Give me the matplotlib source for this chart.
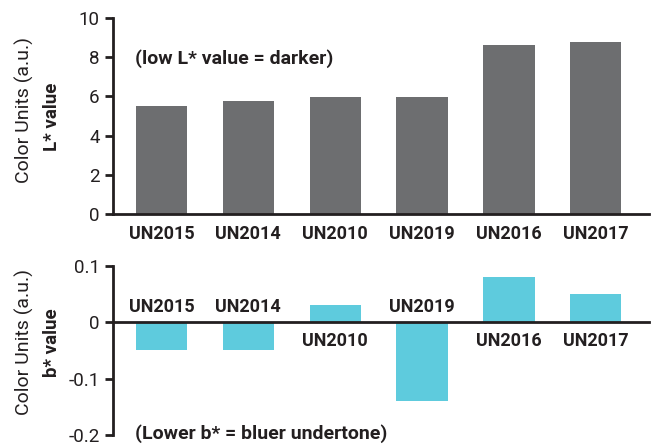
import numpy as np
import matplotlib.pyplot as plt

samples = ["UN2015", "UN2014", "UN2010", "UN2019", "UN2016", "UN2017"]
l_values = [5.51, 5.77, 5.95, 5.95, 8.62, 8.78]
b_values = [-0.05, -0.05, 0.03, -0.14, 0.08, 0.05]

plt.rcParams['font.family'] = ['Roboto', 'DejaVu Sans']
dark = "#231f20"
grey = "#6d6e70"
cyan = "#5ecbdd"

fig = plt.figure(figsize=(6.52, 4.45), dpi=100)
ax1 = fig.add_axes([0.173, 0.519, 0.822, 0.441])
ax2 = fig.add_axes([0.173, 0.0225, 0.822, 0.38])

x_pos = np.arange(len(samples))
width = 0.59

# top: L* values
ax1.bar(x_pos, l_values, width=width, color=grey)
ax1.set_xlim(-0.56, 5.61)
ax1.set_ylim(0, 10)
ax1.set_yticks([0, 2, 4, 6, 8, 10])
ax1.set_xticks(x_pos)
ax1.set_xticklabels(samples, fontweight='bold', fontsize=13, color=dark)
ax1.tick_params(axis='x', length=0, pad=8)
ax1.tick_params(axis='y', labelsize=13.5, colors=dark, width=2, length=6)
for s in ['top', 'right']:
	ax1.spines[s].set_visible(False)
for s in ['left', 'bottom']:
	ax1.spines[s].set_linewidth(2)
	ax1.spines[s].set_color(dark)
ax1.text(-0.3, 7.9, "(low L* value = darker)", fontweight='bold', fontsize=14,
	color=dark, va='center', ha='left')

# bottom: b* values
ax2.bar(x_pos, b_values, width=width, color=cyan)
ax2.set_xlim(-0.56, 5.61)
ax2.set_ylim(-0.2, 0.1)
ax2.set_yticks([-0.2, -0.1, 0, 0.1])
ax2.set_yticklabels(["-0.2", "-0.1", "0", "0.1"])
ax2.set_xticks([])
ax2.tick_params(axis='y', labelsize=13.5, colors=dark, width=2, length=6)
for s in ['top', 'right']:
	ax2.spines[s].set_visible(False)
ax2.spines['bottom'].set_position(('data', 0))
for s in ['left', 'bottom']:
	ax2.spines[s].set_linewidth(2)
	ax2.spines[s].set_color(dark)
for i, v in enumerate(b_values):
	if v < 0:
		ax2.text(i, 0.011, samples[i], ha='center', va='bottom', fontweight='bold',
			fontsize=13, color=dark)
	else:
		ax2.text(i, -0.018, samples[i], ha='center', va='top', fontweight='bold',
			fontsize=13, color=dark)
ax2.text(-0.3, -0.197, "(Lower b* = bluer undertone)", fontweight='bold', fontsize=14,
	color=dark, va='center', ha='left')

# y labels
fig.text(0.037, 0.753, "Color Units (a.u.)", rotation=90, fontsize=14, color=dark,
	ha='center', va='center')
fig.text(0.079, 0.737, "L* value", rotation=90, fontsize=13.5, fontweight='bold', color=dark,
	ha='center', va='center')
fig.text(0.037, 0.231, "Color Units (a.u.)", rotation=90, fontsize=14, color=dark,
	ha='center', va='center')
fig.text(0.079, 0.229, "b* value", rotation=90, fontsize=13.5, fontweight='bold', color=dark,
	ha='center', va='center')

plt.savefig("out.png", dpi=100)
